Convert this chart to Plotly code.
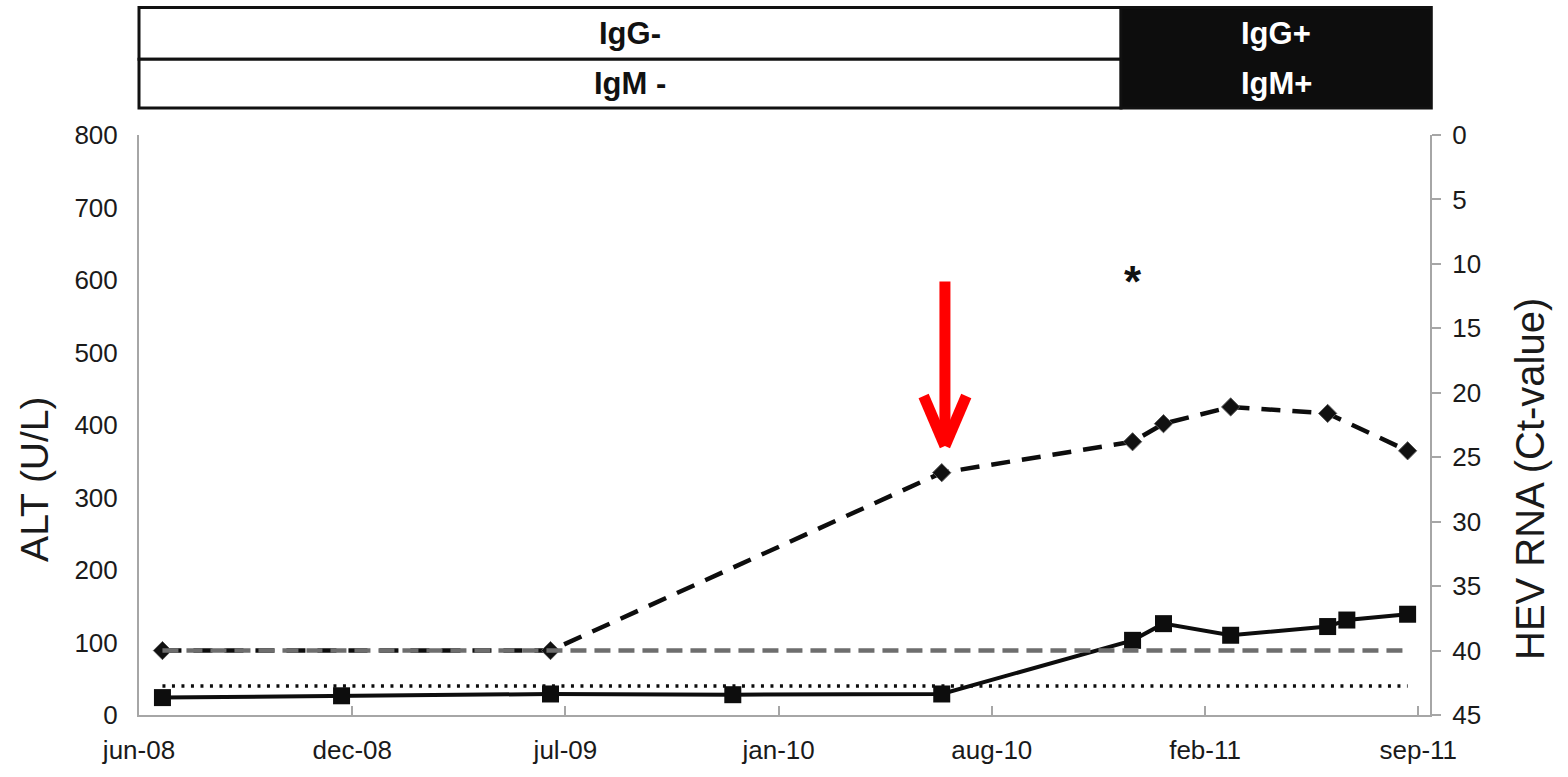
import pandas as pd
import plotly.graph_objects as go

# ALT measurements (U/L)
ALT_DATES = ["2008-06-23", "2008-12-08", "2009-06-22", "2009-12-10", "2010-06-24",
             "2010-12-20", "2011-01-18", "2011-03-22", "2011-06-21", "2011-07-09",
             "2011-09-04"]
ALT_VALUES = [24, 26.5, 29, 28, 29, 103, 126, 110, 122, 131, 139]

# HEV RNA real-time PCR (Ct-value; 40 = not detected)
HEV_DATES = ["2008-06-23", "2009-06-22", "2010-06-24", "2010-12-20", "2011-01-18",
             "2011-03-22", "2011-06-21", "2011-09-04"]
HEV_CT = [40, 40, 26.2, 23.8, 22.4, 21.1, 21.6, 24.5]

# Reference lines
ALT_ULN = 40        # upper limit of normal ALT
CT_CUTOFF = 40      # PCR cut-off

# Date axis
TICK_START = "2008-06-01"
TICK_STEP_DAYS = 200
TICK_LABELS = ["jun-08", "dec-08", "jul-09", "jan-10", "aug-10", "feb-11", "sep-11"]
X_END = "2011-09-25"

# Serology status bar: (IgG, IgM) before and after seroconversion
SEROLOGY_NEG = ("IgG-", "IgM -")
SEROLOGY_POS = ("IgG+", "IgM+")
SEROCONVERSION_FRAC = 0.7607

# Annotations
ASTERISK_DATE = "2010-12-20"
ASTERISK_ALT = 598
ARROW_DATE = "2010-06-27"
ARROW_TOP_ALT = 598
ARROW_TIP_ALT = 371
ARROW_HEAD_ALT = 440
ARROW_HEAD_DAYS = 20

FONT = "Liberation Sans, Arial, Helvetica, sans-serif"
TEXT = "#1a1a1a"
AXIS = "#a6a6a6"

tickvals = pd.date_range(TICK_START, periods=len(TICK_LABELS), freq=f"{TICK_STEP_DAYS}D")
first_date = min(ALT_DATES[0], HEV_DATES[0])
last_date = max(ALT_DATES[-1], HEV_DATES[-1])

fig = go.Figure()

# HEV RNA (dashed, diamonds) on the reversed right axis
fig.add_trace(go.Scatter(
    x=HEV_DATES, y=HEV_CT, yaxis="y2", mode="lines+markers", name="HEV RNA",
    line=dict(color="#0d0d0d", width=4.5, dash="19px,12px"),
    marker=dict(symbol="diamond", size=14, color="#111111",
                line=dict(color="#555555", width=1)),
))

# PCR cut-off (grey dashed)
fig.add_trace(go.Scatter(
    x=[first_date, last_date], y=[CT_CUTOFF, CT_CUTOFF], yaxis="y2", mode="lines",
    line=dict(color="#6e6e6e", width=4.5, dash="16px,8px"), name="Ct cut-off",
))

# ALT upper limit of normal (dotted)
fig.add_trace(go.Scatter(
    x=[first_date, last_date], y=[ALT_ULN, ALT_ULN], mode="lines",
    line=dict(color="#0d0d0d", width=3.5, dash="3px,6.5px"), name="ALT ULN",
))

# ALT (solid, squares)
fig.add_trace(go.Scatter(
    x=ALT_DATES, y=ALT_VALUES, mode="lines+markers", name="ALT",
    line=dict(color="#0d0d0d", width=4),
    marker=dict(symbol="square", size=17, color="#0d0d0d"),
))

shapes = []

# Red arrow marking the start of viraemia
ad = pd.Timestamp(ARROW_DATE)
dh = pd.Timedelta(days=ARROW_HEAD_DAYS)
red = dict(color="#ff0000", width=11)
shapes.append(dict(type="line", xref="x", yref="y", x0=ad, x1=ad,
                   y0=ARROW_TOP_ALT, y1=ARROW_TIP_ALT + 8, line=red))
for side in (-1, 1):
    shapes.append(dict(type="line", xref="x", yref="y", x0=ad + side * dh, x1=ad,
                       y0=ARROW_HEAD_ALT, y1=ARROW_TIP_ALT, line=red))

# Serology status bar above the plot
y_top, y_mid, y_bot = 1.2199, 1.1306, 1.0464
border = dict(color="#111111", width=3)
shapes += [
    dict(type="rect", xref="paper", yref="paper", x0=0, x1=SEROCONVERSION_FRAC,
         y0=y_mid, y1=y_top, line=border, fillcolor="white"),
    dict(type="rect", xref="paper", yref="paper", x0=0, x1=SEROCONVERSION_FRAC,
         y0=y_bot, y1=y_mid, line=border, fillcolor="white"),
    dict(type="rect", xref="paper", yref="paper", x0=SEROCONVERSION_FRAC, x1=1.001,
         y0=y_bot, y1=y_top, line=border, fillcolor="#0d0d0d"),
]

annotations = []
box_font = dict(family=FONT, size=31)
for (igg, igm), (xa, xb), col in (
    (SEROLOGY_NEG, (0, SEROCONVERSION_FRAC), "#111111"),
    (SEROLOGY_POS, (SEROCONVERSION_FRAC, 1.001), "#ffffff"),
):
    xc = (xa + xb) / 2
    for text, yc in ((igg, (y_mid + y_top) / 2), (igm, (y_bot + y_mid) / 2)):
        annotations.append(dict(xref="paper", yref="paper", x=xc, y=yc,
                                xanchor="center", yanchor="middle",
                                text=f"<b>{text}</b>", showarrow=False,
                                font=dict(**box_font, color=col)))

# Asterisk
annotations.append(dict(xref="x", yref="y", x=ASTERISK_DATE, y=ASTERISK_ALT,
                        xanchor="center", yanchor="middle",
                        text="<b>*</b>", showarrow=False,
                        font=dict(family=FONT, size=44, color="#111111")))

# Axis titles
annotations.append(dict(xref="paper", yref="paper", x=-0.0806, y=0.407,
                        xanchor="center", yanchor="middle",
                        text="ALT (U/L)", textangle=-90, showarrow=False,
                        font=dict(family=FONT, size=39, color=TEXT)))
annotations.append(dict(xref="paper", yref="paper", x=1.0775, y=0.407,
                        xanchor="center", yanchor="middle",
                        text="HEV RNA (Ct-value)", textangle=-90, showarrow=False,
                        font=dict(family=FONT, size=40, color=TEXT)))

tick_font = dict(family=FONT, size=26, color=TEXT)

fig.update_layout(
    width=1568, height=777,
    margin=dict(l=139, r=138, t=135, b=60),
    paper_bgcolor="white", plot_bgcolor="white",
    showlegend=False,
    shapes=shapes, annotations=annotations,
    xaxis=dict(
        type="date", range=[TICK_START, X_END],
        tickvals=tickvals, ticktext=TICK_LABELS,
        ticks="inside", ticklen=9, tickwidth=2, tickcolor=AXIS,
        showline=True, linecolor=AXIS, linewidth=2,
        showgrid=False, zeroline=False, tickfont=tick_font,
        ticklabelstandoff=11,
    ),
    yaxis=dict(
        range=[0, 800], dtick=100, ticks="",
        showline=True, linecolor=AXIS, linewidth=2,
        showgrid=False, zeroline=False, tickfont=tick_font,
        ticklabelstandoff=14,
    ),
    yaxis2=dict(
        range=[45, 0], dtick=5, overlaying="y", side="right",
        ticks="outside", ticklen=9, tickwidth=2, tickcolor=AXIS,
        showline=True, linecolor=AXIS, linewidth=2,
        showgrid=False, zeroline=False, tickfont=tick_font,
        ticklabelstandoff=6,
    ),
)

fig.write_html("out.html")
